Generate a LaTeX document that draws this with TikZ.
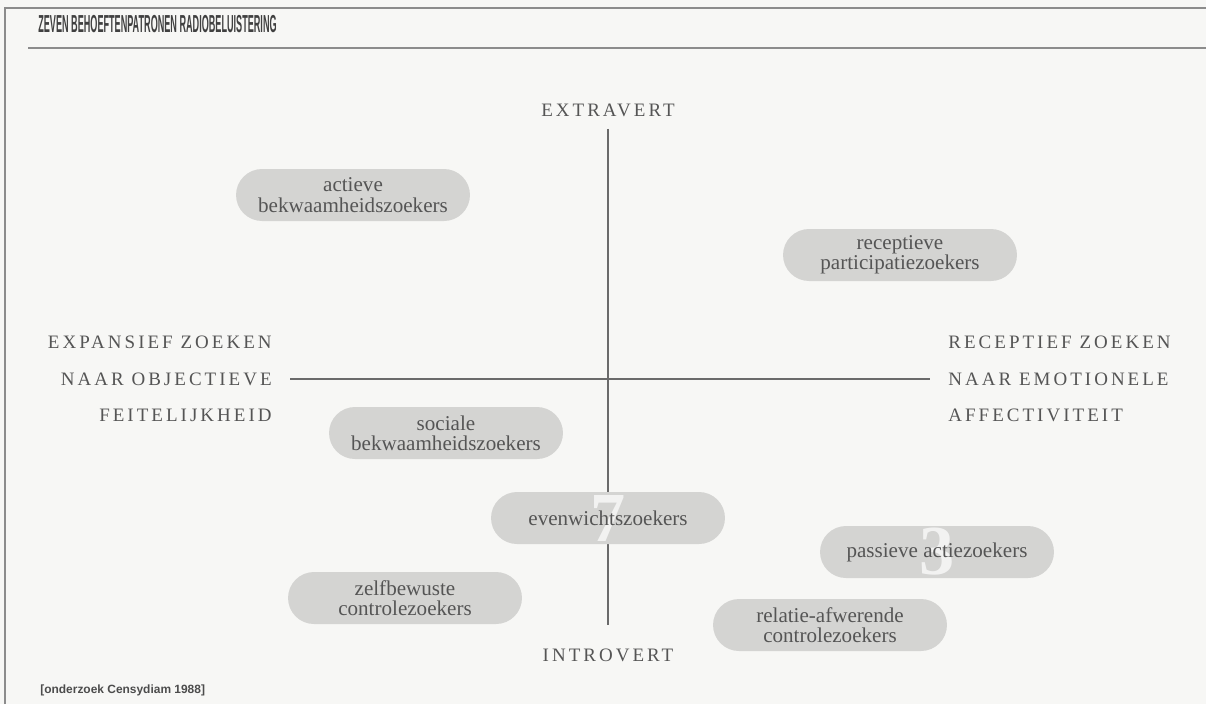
\documentclass[tikz,border=0pt]{standalone}
\usepackage{fontspec}
\setmainfont{Liberation Serif}
\newfontfamily\kapfont[LetterSpace=16]{Liberation Serif}
\newfontfamily\titelfont{Liberation Sans}
\usetikzlibrary{shapes.misc}

\definecolor{papier}{HTML}{F7F7F5}
\definecolor{pilgrijs}{HTML}{D4D4D2}
\definecolor{tekstgrijs}{HTML}{555555}
\definecolor{lijngrijs}{HTML}{6A6A6A}
\definecolor{kadergrijs}{HTML}{8C8C8C}

\tikzset{
  pil/.style={rounded rectangle, fill=pilgrijs, minimum width=4.68cm, minimum height=1.04cm,
    inner sep=0pt, align=center, text=tekstgrijs, font=\fontsize{12}{11.6}\selectfont},
  nummer/.style={path picture={\node[text=white, opacity=0.7, font=\fontsize{40}{40}\selectfont\bfseries]
    at (path picture bounding box.center) {#1};}},
  kap/.style={inner sep=0pt, text=tekstgrijs, font=\kapfont\fontsize{10.8}{12}\selectfont},
  as/.style={draw=lijngrijs, line width=0.6pt}
}

\begin{document}
\begin{tikzpicture}[x=0.02cm,y=-0.02cm]
\fill [papier] (0,0) rectangle (1206,704);
\useasboundingbox (0,0) rectangle (1206,704);
% kader
\draw [kadergrijs, line width=1.2pt] (5,704) -- (5,8) -- (1206,8);
\draw [kadergrijs, line width=1pt] (28,48) -- (1206,48);
\node [anchor=west, inner sep=0pt, text=black!75] (titel) at (38,24)
  {\titelfont\bfseries\fontsize{14}{15}\selectfont\scalebox{0.37}[1]{ZEVEN BEHOEFTENPATRONEN RADIOBELUISTERING}};

% assen
\node [kap] (extra) at (608,110) {EXTRAVERT};
\node [kap] (intro) at (608,655) {INTROVERT};
\node [kap, anchor=east] (links1) at (272,342) {EXPANSIEF ZOEKEN};
\node [kap, anchor=east] (links2) at (272,379) {NAAR OBJECTIEVE};
\node [kap, anchor=east] (links3) at (272,415) {FEITELIJKHEID};
\node [kap, anchor=west] (rechts1) at (948,342) {RECEPTIEF ZOEKEN};
\node [kap, anchor=west] (rechts2) at (948,379) {NAAR EMOTIONELE};
\node [kap, anchor=west] (rechts3) at (948,415) {AFFECTIVITEIT};
\draw [as, shorten <=0.24cm, shorten >=0.46cm] (extra.south) -- (intro.north);
\draw [as, shorten <=0.36cm, shorten >=0.36cm] (links2.east) -- (rechts2.west);

% patronen
\node [pil] (actief) at (353,195) {actieve\\bekwaamheidszoekers};
\node [pil] (receptief) at (900,255) {receptieve\\participatiezoekers};
\node [pil] (sociaal) at (446,433) {sociale\\bekwaamheidszoekers};
\node [pil, nummer=7] (evenwicht) at (608,518) {evenwichtszoekers};
\node [pil, nummer=3] (passief) at (937,552) {passieve actiezoekers};
\node [pil] (zelfbewust) at (405,598) {zelfbewuste\\controlezoekers};
\node [pil] (afwerend) at (830,625) {relatie-afwerende\\controlezoekers};

\node [anchor=west, inner sep=0pt, text=black!70] (bron) at (40,690)
  {\titelfont\bfseries\fontsize{6.8}{8}\selectfont [onderzoek Censydiam 1988]};
\end{tikzpicture}
\end{document}
